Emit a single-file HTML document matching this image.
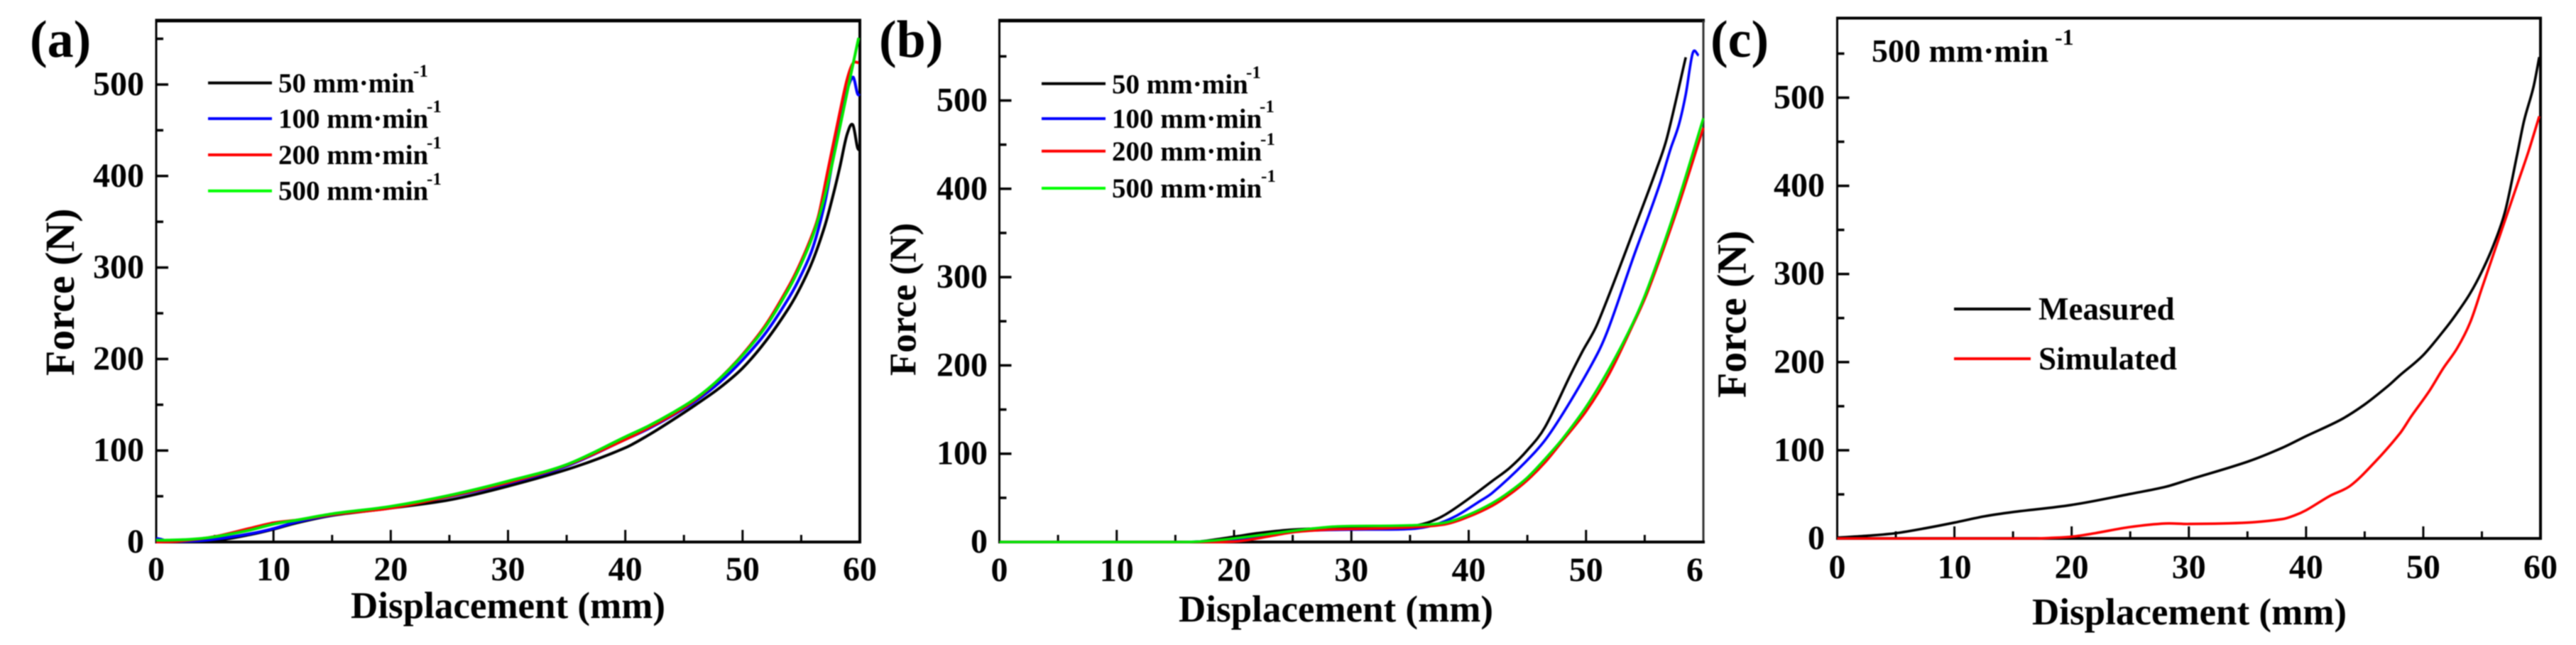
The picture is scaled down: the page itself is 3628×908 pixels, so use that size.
<!DOCTYPE html>
<html>
<head>
<meta charset="utf-8">
<title>Force versus displacement charts</title>
<style>
html,body{margin:0;padding:0;background:#fff;}
body{width:3628px;height:908px;overflow:hidden;}
svg{display:block;filter:blur(0.7px);}
text{font-family:"Liberation Serif",serif;font-weight:bold;fill:#000;}
</style>
</head>
<body>
<svg id="chart" xmlns="http://www.w3.org/2000/svg" width="3628" height="908" viewBox="0 0 3628 908">
  <rect width="3628" height="908" fill="#fff"/>

  <g>
    <text x="42" y="80" font-size="74">(a)</text>
    <text x="494" y="870" font-size="53">Displacement (mm)</text>
    <text transform="translate(104,529) rotate(-90)" font-size="58">Force (N)</text>
    <g>
      <line x1="293" x2="383" y1="116.7" y2="116.7" stroke="#000" stroke-width="4"/>
      <text x="392" y="130" font-size="39">50 mm·min</text>
      <text x="582" y="108" font-size="25">-1</text>
      <line x1="293" x2="383" y1="167" y2="167" stroke="#0000ff" stroke-width="4"/>
      <text x="392" y="180" font-size="39">100 mm·min</text>
      <text x="601" y="158" font-size="25">-1</text>
      <line x1="293" x2="383" y1="218" y2="218" stroke="#ff0000" stroke-width="4"/>
      <text x="392" y="231" font-size="39">200 mm·min</text>
      <text x="601" y="209" font-size="25">-1</text>
      <line x1="293" x2="383" y1="268.7" y2="268.7" stroke="#00ff00" stroke-width="4"/>
      <text x="392" y="281.7" font-size="39">500 mm·min</text>
      <text x="601" y="260" font-size="25">-1</text>
    </g>
  </g>

  <g>
    <text x="1238" y="80" font-size="74">(b)</text>
    <text x="1660" y="875" font-size="53">Displacement (mm)</text>
    <text transform="translate(1289.5,529) rotate(-90)" font-size="53">Force (N)</text>
    <g>
      <line x1="1467" x2="1557" y1="117.7" y2="117.7" stroke="#000" stroke-width="4"/>
      <text x="1566" y="131.7" font-size="39">50 mm·min</text>
      <text x="1755" y="110" font-size="25">-1</text>
      <line x1="1467" x2="1557" y1="167" y2="167" stroke="#0000ff" stroke-width="4"/>
      <text x="1566" y="180" font-size="39">100 mm·min</text>
      <text x="1774" y="158" font-size="25">-1</text>
      <line x1="1467" x2="1557" y1="212.7" y2="212.7" stroke="#ff0000" stroke-width="4"/>
      <text x="1566" y="226" font-size="39">200 mm·min</text>
      <text x="1775" y="204" font-size="25">-1</text>
      <line x1="1467" x2="1557" y1="265" y2="265" stroke="#00ff00" stroke-width="4"/>
      <text x="1566" y="278" font-size="39">500 mm·min</text>
      <text x="1776" y="256" font-size="25">-1</text>
    </g>
  </g>

  <g>
    <text x="2409" y="80" font-size="74">(c)</text>
    <text x="2862" y="879" font-size="53">Displacement (mm)</text>
    <text transform="translate(2458.5,560) rotate(-90)" font-size="58">Force (N)</text>
    <text x="2636" y="87" font-size="46">500 mm·min</text>
    <text x="2894" y="63" font-size="32">-1</text>
    <g>
      <line x1="2752" x2="2860" y1="435" y2="435" stroke="#000" stroke-width="4"/>
      <text x="2871" y="450" font-size="45">Measured</text>
      <line x1="2752" x2="2860" y1="505" y2="505" stroke="#ff0000" stroke-width="4"/>
      <text x="2871" y="520" font-size="45">Simulated</text>
    </g>
  </g>
</svg>

<script>
// ---- tick values and labels ----
const xMajorTicks = [0, 10, 20, 30, 40, 50, 60];
const xMinorTicks = [5, 15, 25, 35, 45, 55];
const yMajorTicks = [0, 100, 200, 300, 400, 500];
const yMinorTicks = [50, 150, 250, 350, 450, 550];
const xTickLabelsA = ["0", "10", "20", "30", "40", "50", "60"];
const xTickLabelsB = ["0", "10", "20", "30", "40", "50", "6"];
const xTickLabelsC = ["0", "10", "20", "30", "40", "50", "60"];
const yTickLabels = ["0", "100", "200", "300", "400", "500"];

// ---- panel (a) series: displacement (mm), force (N) ----
const a50X = [0, 2, 5, 8, 10, 12, 15, 20, 25, 30, 35.7, 40, 42, 44, 46, 48, 50, 52, 54, 55, 56, 57, 57.7, 58.3, 58.9, 59.4, 59.8, 60];
const a50F = [1, 0.5, 1.5, 8, 14, 21, 29, 37, 46, 61, 82, 103, 117, 133, 150, 168, 190, 220, 257, 280, 308, 345, 378, 410, 445, 456, 431, 428];
const a100X = [0, 0.4, 1, 3, 5, 8, 10, 12, 15, 20, 25, 30, 35, 40, 42, 44, 46, 48, 50, 52, 54, 55, 56, 57, 57.8, 58.6, 59.4, 59.8, 60];
const a100F = [4, 3, 1, 1, 3, 9, 14.7, 22, 29.5, 38, 49.5, 64, 83, 112, 124, 138, 154, 174, 199, 229, 268, 292, 322, 370, 425, 478, 508, 490, 488];
const a200X = [0, 2, 5, 8, 10, 12, 15, 20, 25, 30, 35, 40, 42, 44, 46, 48, 50, 52, 54, 55, 56, 56.5, 57.3, 58.3, 58.9, 59.4, 59.9];
const a200F = [0, 1, 6, 15, 21, 24, 30, 37, 50, 65, 84, 112, 125, 139, 156, 178, 205, 238, 281, 307, 338, 358, 408, 470, 505, 523, 524];
const a500X = [0, 1, 3, 5, 8, 10, 12, 15, 20, 25, 30, 35, 40, 42, 44, 46, 48, 50, 52, 54, 55, 56, 56.8, 57.5, 58.7, 59.3, 59.9];
const a500F = [2, 2, 3, 5.7, 13, 19.5, 24, 30.8, 39, 51, 66.5, 84.6, 115, 127, 141, 157, 178, 204, 236, 278, 304, 335, 368, 405, 478, 515, 551];

// ---- panel (b) series ----
const b50X = [0, 15, 17, 20, 22, 25, 30, 35, 36.5, 38, 40, 42, 43.5, 45, 46.5, 48.7, 49.7, 51, 54.6, 56, 56.9, 58.5];
const b50F = [0, 0, 0.5, 6, 10, 14, 16.6, 18, 22, 31, 49, 69, 84, 104, 130, 190, 216, 248, 372, 422, 458, 549];
const b100X = [0, 15, 17, 20, 22, 25, 30, 35, 37, 39, 40.8, 42, 44.8, 46.6, 48.7, 51, 52, 54.1, 55.4, 56.4, 57.2, 57.9, 58.5, 59.1, 59.6];
const b100F = [0, 0, 0.5, 3, 6, 12, 14, 14.7, 19, 30, 45, 55.5, 90, 117, 160, 214, 245, 325, 372, 410, 445, 472, 507, 554, 551];
const b200X = [0, 17, 20, 22, 25, 28, 30, 35, 38, 40, 42, 43.5, 45, 46.5, 48, 50, 52, 54, 55.3, 57.66, 60];
const b200F = [0, 0, 0.5, 4, 11, 14, 14.7, 16.6, 20, 28.7, 41, 54, 70, 90, 114.5, 148, 191, 246, 285, 372, 469];
const b500X = [0, 15, 17, 20, 25, 28, 30, 35, 38, 40, 42, 43.5, 45, 46.5, 48, 50, 52, 54, 55.3, 57.6, 60];
const b500F = [0, 0, 0.5, 4, 12.6, 17, 18, 18.8, 22, 31, 44, 57, 73, 94, 117, 153, 197, 248, 289, 376, 480];

// ---- panel (c) series ----
const cMeasuredX = [0, 2.5, 5, 7.5, 10, 12.5, 15, 20, 25, 28, 30, 35, 38, 40, 43, 45, 47, 48, 50, 52, 53, 54, 55, 56, 57, 58, 58.6, 59.4, 59.9];
const cMeasuredF = [1, 3, 6, 11.5, 18, 25, 30, 38, 50.5, 58.5, 66.6, 87, 103, 116, 135, 152, 173, 185, 208, 240, 258, 278, 303, 333, 372, 435, 474, 512, 546];
const cSimulatedX = [0, 17, 18, 20, 22, 25, 28, 30, 35, 38, 39, 40, 42, 43.8, 45.9, 48, 49, 50.5, 51.7, 52.9, 54, 55, 56, 57, 58, 59, 59.9];
const cSimulatedF = [0, 0, 0.5, 2, 6, 13, 17, 16.4, 18, 22, 26, 32, 48, 60, 87, 119, 139, 167, 193, 216, 245, 284, 323, 362, 401, 440, 479];

const NS = 'http://www.w3.org/2000/svg';
const root = document.getElementById('chart');

function make(tag, attrs, parent) {
  const el = document.createElementNS(NS, tag);
  for (const k in attrs) el.setAttribute(k, attrs[k]);
  parent.appendChild(el);
  return el;
}

// Hermite spline with x-aware tangents, so uneven sample spacing does not wobble.
function linePath(xs, ys, sx, sy) {
  const pts = xs.map((d, i) => [sx(d), sy(ys[i])]);
  const n = pts.length;
  const slope = pts.map((p, i) => {
    const a = pts[Math.max(0, i - 1)], b = pts[Math.min(n - 1, i + 1)];
    return (b[1] - a[1]) / (b[0] - a[0]);
  });
  let p = 'M' + pts[0][0].toFixed(1) + ' ' + pts[0][1].toFixed(1);
  for (let i = 0; i < n - 1; i++) {
    const h = (pts[i + 1][0] - pts[i][0]) / 3;
    const c1x = pts[i][0] + h, c1y = pts[i][1] + slope[i] * h;
    const c2x = pts[i + 1][0] - h, c2y = pts[i + 1][1] - slope[i + 1] * h;
    p += 'C' + c1x.toFixed(1) + ' ' + c1y.toFixed(1) + ' ' + c2x.toFixed(1) + ' ' + c2y.toFixed(1) + ' ' + pts[i + 1][0].toFixed(1) + ' ' + pts[i + 1][1].toFixed(1);
  }
  return p;
}

function drawPanel(cfg) {
  const g = make('g', {}, root);
  
  
  const sx = d => cfg.left + d * (cfg.right - cfg.left) / 60;
  const sy = v => cfg.bottom - v * cfg.pxPerUnit;

  // minor and major ticks
  xMinorTicks.forEach(t => {
    const el = make('line', {x1: sx(t), x2: sx(t), y1: cfg.bottom, y2: cfg.bottom - 10, stroke: '#000', 'stroke-width': 3}, g);
    
    
  });
  xMajorTicks.forEach((t, i) => {
    const el = make('line', {x1: sx(t), x2: sx(t), y1: cfg.bottom, y2: cfg.bottom - 17, stroke: '#000', 'stroke-width': 3}, g);
    
    
    const label = cfg.xLabels[i];
    const txt = make('text', {x: sx(t), y: cfg.xLabelBase, 'font-size': 48, 'text-anchor': label === '6' ? 'end' : 'middle'}, g);
    txt.textContent = label;
    
    
  });
  yMinorTicks.forEach(t => {
    const el = make('line', {x1: cfg.left, x2: cfg.left + 10, y1: sy(t), y2: sy(t), stroke: '#000', 'stroke-width': 3.5}, g);
    
    
  });
  yMajorTicks.forEach((t, i) => {
    const el = make('line', {x1: cfg.left, x2: cfg.left + 17, y1: sy(t), y2: sy(t), stroke: '#000', 'stroke-width': 3.5}, g);
    
    
    const txt = make('text', {x: cfg.yLabelRight, y: sy(t) + 15, 'font-size': 48, 'text-anchor': 'end'}, g);
    txt.textContent = yTickLabels[i];
    
    
  });

  // frame
  const frame = make('path', {
    d: 'M' + cfg.left + ' ' + cfg.bottom + 'V' + cfg.top, fill: 'none', stroke: '#000', 'stroke-width': 3
  }, g);
  
  
  const topLine = make('line', {x1: cfg.left - 1.5, x2: cfg.right + 2, y1: cfg.top, y2: cfg.top, stroke: '#000', 'stroke-width': cfg.topWidth}, g);
  
  
  const rightLine = make('line', {x1: cfg.right, x2: cfg.right, y1: cfg.top, y2: cfg.bottom, stroke: cfg.rightColor, 'stroke-width': cfg.rightWidth}, g);
  
  
  const bottomLine = make('line', {x1: cfg.left - 1.5, x2: cfg.right + 2, y1: cfg.bottom, y2: cfg.bottom, stroke: '#000', 'stroke-width': 4}, g);
  
  

  // series
  cfg.series.forEach(s => {
    const el = make('path', {d: linePath(s.x, s.y, sx, sy), fill: 'none', stroke: s.color, 'stroke-width': cfg.curveWidth, 'stroke-linejoin': 'round', 'stroke-linecap': 'butt'}, g);
    
    
  });
}

drawPanel({
  name: 'panel-a-plot', left: 220, right: 1211, top: 29, bottom: 763, pxPerUnit: 1.288,
  xLabels: xTickLabelsA, xLabelBase: 817, yLabelRight: 203, topWidth: 5, rightWidth: 4, rightColor: '#000', curveWidth: 4,
  series: [
    {name: 'series-50-mm-min', x: a50X, y: a50F, color: '#000'},
    {name: 'series-100-mm-min', x: a100X, y: a100F, color: '#0000ff'},
    {name: 'series-200-mm-min', x: a200X, y: a200F, color: '#ff0000'},
    {name: 'series-500-mm-min', x: a500X, y: a500F, color: '#00e800'}
  ]
});
drawPanel({
  name: 'panel-b-plot', left: 1407.5, right: 2399, top: 29, bottom: 763, pxPerUnit: 1.243,
  xLabels: xTickLabelsB, xLabelBase: 818, yLabelRight: 1391, topWidth: 5, rightWidth: 3, rightColor: '#333', curveWidth: 3.6,
  series: [
    {name: 'series-50-mm-min', x: b50X, y: b50F, color: '#000'},
    {name: 'series-100-mm-min', x: b100X, y: b100F, color: '#0000ff'},
    {name: 'series-200-mm-min', x: b200X, y: b200F, color: '#ff0000'},
    {name: 'series-500-mm-min', x: b500X, y: b500F, color: '#00e800'}
  ]
});
drawPanel({
  name: 'panel-c-plot', left: 2587.5, right: 3578, top: 25.5, bottom: 758, pxPerUnit: 1.241,
  xLabels: xTickLabelsC, xLabelBase: 814, yLabelRight: 2570, topWidth: 4, rightWidth: 4, rightColor: '#000', curveWidth: 3.6,
  series: [
    {name: 'series-measured', x: cMeasuredX, y: cMeasuredF, color: '#000'},
    {name: 'series-simulated', x: cSimulatedX, y: cSimulatedF, color: '#ff0000'}
  ]
});
</script>
</body>
</html>
